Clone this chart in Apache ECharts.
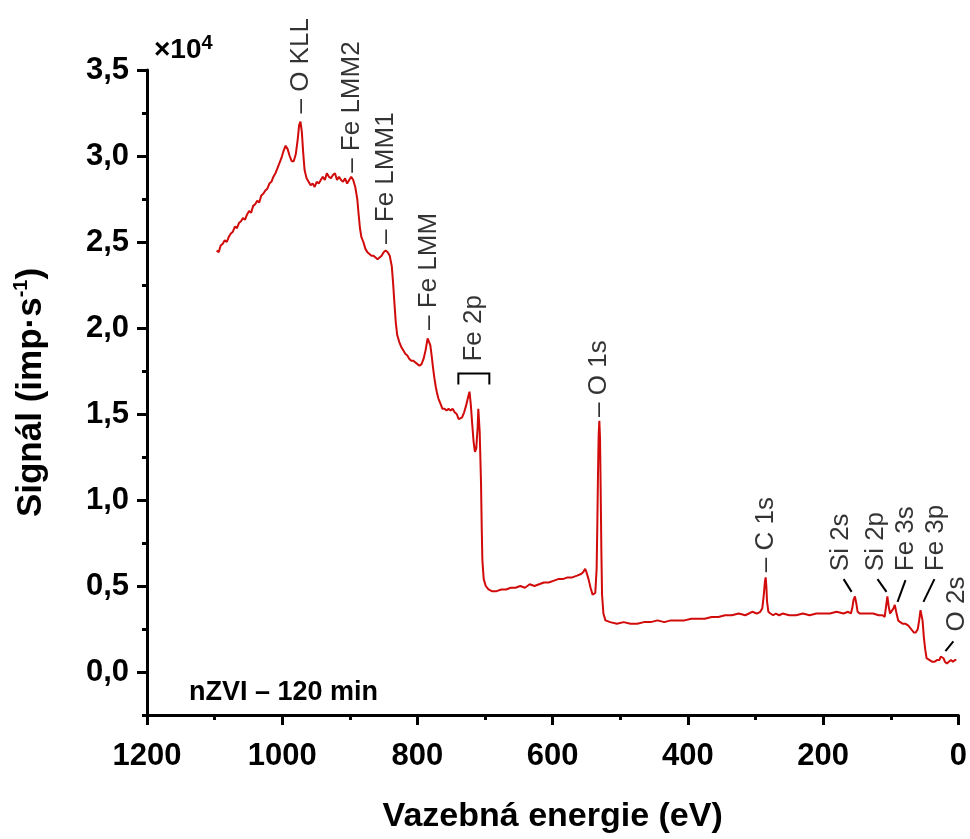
<!DOCTYPE html>
<html>
<head>
<meta charset="utf-8">
<title>XPS nZVI – 120 min</title>
<script src="https://cdn.jsdelivr.net/npm/echarts@6/dist/echarts.min.js"></script>
<style>
  html, body { margin: 0; padding: 0; background: #fff; }
  #chart { width: 970px; height: 839px; }
</style>
</head>
<body>
<div id="chart"></div>
<script>
// binding energy (eV) and signal (x10^4 imp/s)
var energy = [
  1097, 1094, 1091, 1088, 1085, 1082, 1079, 1076, 1073, 1070, 1067, 1064, 1061, 1058, 1055, 1052, 1049, 1046, 1043, 1040,
  1037, 1034, 1031, 1028, 1025, 1022, 1019, 1016, 1013, 1010, 1007, 1004, 1001, 998, 995, 992, 989, 986, 983, 980,
  977, 975, 973, 971, 969, 967, 964, 961, 958, 955, 952, 949, 946, 943, 940, 937, 934, 931, 928, 925,
  922, 919, 916, 913, 910, 907, 904, 901, 898, 895, 892, 889, 887, 885, 883, 880, 877, 874, 871, 868,
  865, 862, 859, 856, 853, 850, 847, 844, 841, 838, 836, 834, 832, 830, 827, 824, 821, 818, 815, 812,
  809, 806, 803, 800, 797, 794, 791, 788, 785, 783, 781, 779, 777, 775, 773, 771, 769, 766, 763, 760,
  757, 754, 751, 748, 745, 742, 739, 737, 734, 731, 728, 725, 723, 721, 719, 717, 715, 713, 711, 710,
  708, 706, 705, 704, 702, 699, 695, 690, 683, 676, 669, 662, 655, 648, 641, 634, 627, 620, 613, 606,
  599, 592, 585, 578, 571, 564, 558, 555, 552, 550, 547, 544, 541, 539, 537, 535, 534, 533, 532, 531,
  530, 529, 528, 527, 525, 522, 515, 505, 495, 485, 475, 465, 455, 445, 435, 425, 415, 405, 395, 385,
  375, 365, 355, 345, 335, 325, 315, 305, 298, 293, 290, 288, 286, 285, 284, 283, 281, 278, 274, 270,
  265, 260, 250, 240, 230, 220, 210, 200, 190, 180, 170, 163, 159, 157, 155, 153, 151, 149, 146, 140,
  133, 126, 118, 112, 109, 107, 105, 103, 101, 99, 96, 94, 92, 89, 86, 82, 78, 74, 70, 66,
  63, 60, 58, 56, 55, 53, 51, 49, 47, 45, 43, 39, 35, 31, 28, 26, 24, 22, 20, 17,
  14, 11, 8, 5, 3
];
var signal = [
  2.45, 2.44, 2.48, 2.49, 2.51, 2.50, 2.53, 2.55, 2.56, 2.59, 2.58, 2.61, 2.62, 2.64, 2.63, 2.66, 2.68, 2.67, 2.71, 2.72,
  2.74, 2.73, 2.77, 2.78, 2.80, 2.81, 2.84, 2.85, 2.88, 2.90, 2.93, 2.96, 2.99, 3.03, 3.06, 3.04, 3.00, 2.97, 2.97, 3.01,
  3.10, 3.18, 3.20, 3.14, 3.02, 2.92, 2.87, 2.85, 2.83, 2.84, 2.82, 2.85, 2.84, 2.86, 2.88, 2.86, 2.90, 2.88, 2.87, 2.89,
  2.90, 2.86, 2.88, 2.86, 2.85, 2.87, 2.84, 2.86, 2.88, 2.86, 2.82, 2.75, 2.66, 2.58, 2.53, 2.50, 2.46, 2.44, 2.43, 2.42,
  2.42, 2.41, 2.40, 2.41, 2.42, 2.44, 2.45, 2.44, 2.42, 2.36, 2.26, 2.14, 2.03, 1.96, 1.92, 1.89, 1.87, 1.85, 1.84, 1.82,
  1.81, 1.81, 1.80, 1.79, 1.78, 1.79, 1.82, 1.87, 1.94, 1.95, 1.90, 1.84, 1.77, 1.71, 1.66, 1.62, 1.59, 1.56, 1.53, 1.53,
  1.52, 1.53, 1.52, 1.53, 1.51, 1.50, 1.47, 1.46, 1.48, 1.51, 1.55, 1.60, 1.63, 1.55, 1.44, 1.34, 1.28, 1.30, 1.42, 1.53,
  1.40, 1.10, 0.85, 0.65, 0.54, 0.50, 0.48, 0.47, 0.47, 0.48, 0.48, 0.49, 0.49, 0.50, 0.49, 0.51, 0.50, 0.51, 0.52, 0.52,
  0.53, 0.54, 0.54, 0.55, 0.55, 0.56, 0.57, 0.58, 0.60, 0.58, 0.54, 0.49, 0.45, 0.44, 0.46, 0.60, 0.85, 1.15, 1.38, 1.46,
  1.36, 1.05, 0.70, 0.45, 0.34, 0.30, 0.29, 0.28, 0.29, 0.28, 0.28, 0.29, 0.29, 0.30, 0.29, 0.30, 0.30, 0.30, 0.31, 0.31,
  0.31, 0.32, 0.32, 0.33, 0.33, 0.34, 0.33, 0.35, 0.34, 0.35, 0.37, 0.44, 0.53, 0.55, 0.50, 0.41, 0.35, 0.34, 0.33, 0.34,
  0.33, 0.34, 0.33, 0.33, 0.34, 0.33, 0.34, 0.34, 0.34, 0.35, 0.34, 0.35, 0.34, 0.37, 0.42, 0.44, 0.40, 0.35, 0.34, 0.34,
  0.34, 0.34, 0.33, 0.33, 0.32, 0.38, 0.44, 0.38, 0.34, 0.35, 0.37, 0.39, 0.35, 0.30, 0.29, 0.28, 0.28, 0.27, 0.25, 0.23,
  0.23, 0.25, 0.30, 0.36, 0.37, 0.30, 0.20, 0.13, 0.08, 0.07, 0.07, 0.06, 0.06, 0.07, 0.07, 0.09, 0.10, 0.08, 0.06, 0.05,
  0.06, 0.07, 0.06, 0.07, 0.07
];

// peak labels with a leading tick dash
var dashNames = ['– O KLL', '– Fe LMM2', '– Fe LMM1', '– Fe LMM', '– O 1s', '– C 1s'];
var dashEnergy = [972.7, 897.4, 847.2, 783.8, 531.4, 284.9];
var dashSignal = [3.247, 2.902, 2.489, 1.989, 1.483, 0.580];

// peak labels drawn with a separate leader line / bracket
var plainNames = ['Fe 2p', 'Si 2s', 'Si 2p', 'Fe 3s', 'Fe 3p', 'O 2s'];
var plainEnergy = [715.9, 174.2, 122.5, 78.2, 33.9, 3.0];
var plainSignal = [1.805, 0.586, 0.586, 0.586, 0.586, 0.236];

var leaderLines = [
  [[169.7, 0.540], [157.9, 0.466]],
  [[119.6, 0.540], [106.3, 0.466]],
  [[78.2, 0.534], [90.0, 0.408]],
  [[35.4, 0.540], [51.7, 0.408]],
  [[7.4, 0.178], [19.2, 0.121]]
];
var fe2pBracket = [[739.5, 1.672], [739.5, 1.736], [693.7, 1.736], [693.7, 1.672]];

var yTicks = [0, 0.5, 1, 1.5, 2, 2.5, 3, 3.5];
var yMinorTicks = [-0.25, 0.25, 0.75, 1.25, 1.75, 2.25, 2.75, 3.25];

var FONT = '"Liberation Sans", Arial, sans-serif';

function zip(a, b) {
  var out = [];
  for (var i = 0; i < a.length; i++) out.push([a[i], b[i]]);
  return out;
}
function named(names, xs, ys) {
  var out = [];
  for (var i = 0; i < names.length; i++) out.push({ name: names[i], value: [xs[i], ys[i]] });
  return out;
}

var chart = echarts.init(document.getElementById('chart'));

var annoLabel = {
  show: true,
  formatter: '{b}',
  position: 'top',
  distance: 0,
  rotate: 90,
  align: 'left',
  verticalAlign: 'middle',
  fontSize: 26,
  fontFamily: FONT,
  color: '#000'
};

chart.setOption({
  animation: false,
  backgroundColor: '#fff',
  title: [
    {
      left: 149, top: 28,
      text: '{a|×10}{b|4}',
      textStyle: {
        rich: {
          a: { fontSize: 28, fontWeight: 'bold', fontFamily: FONT, color: '#000', lineHeight: 34 },
          b: { fontSize: 20, fontWeight: 'bold', fontFamily: FONT, color: '#000', verticalAlign: 'top', lineHeight: 24 }
        }
      }
    },
    {
      left: 184, top: 674,
      text: 'nZVI – 120 min',
      textStyle: { fontSize: 27, fontWeight: 'bold', fontFamily: FONT, color: '#000' }
    }
  ],
  grid: { left: 147, right: 10, top: 70, bottom: 114, containLabel: false },
  xAxis: {
    type: 'value',
    inverse: true,
    min: 0,
    max: 1200,
    interval: 200,
    axisLine: { onZero: false, lineStyle: { color: '#000', width: 3 } },
    axisTick: { length: 10, lineStyle: { color: '#000', width: 3 } },
    minorTick: { show: true, splitNumber: 2, length: 5, lineStyle: { color: '#000', width: 3 } },
    splitLine: { show: false },
    axisLabel: {
      fontSize: 31, fontWeight: 'bold', fontFamily: FONT, color: '#000', margin: 26,
      formatter: function (v) { return String(v); }
    },
    name: 'Vazebná energie (eV)',
    nameLocation: 'middle',
    nameGap: 85,
    nameTextStyle: { fontSize: 34, fontWeight: 'bold', fontFamily: FONT, color: '#000' }
  },
  yAxis: [
    {
      type: 'value',
      min: -0.25,
      max: 3.5,
      axisLine: { show: true, onZero: false, lineStyle: { color: '#000', width: 3 } },
      axisTick: { show: true, length: 10, customValues: yTicks, lineStyle: { color: '#000', width: 3 } },
      splitLine: { show: false },
      axisLabel: {
        customValues: yTicks,
        fontSize: 31, fontWeight: 'bold', fontFamily: FONT, color: '#000', margin: 18,
        formatter: function (v) { return v.toFixed(1).replace('.', ','); }
      },
      name: 'Signál (imp·s{sup|-1})',
      nameLocation: 'middle',
      nameGap: 96,
      nameTextStyle: {
        fontSize: 35, fontWeight: 'bold', fontFamily: FONT, color: '#000', lineHeight: 40,
        rich: { sup: { fontSize: 20, fontWeight: 'bold', fontFamily: FONT, color: '#000', verticalAlign: 'top', lineHeight: 30 } }
      }
    },
    {
      type: 'value',
      min: -0.25,
      max: 3.5,
      position: 'left',
      axisLine: { show: false, onZero: false },
      axisTick: { show: true, length: 5, customValues: yMinorTicks, lineStyle: { color: '#000', width: 3 } },
      axisLabel: { show: false },
      splitLine: { show: false }
    }
  ],
  series: [
    {
      name: 'nZVI – 120 min',
      type: 'line',
      data: zip(energy, signal),
      showSymbol: false,
      symbol: 'none',
      lineStyle: { color: '#d10a0a', width: 2 },
      z: 3
    },
    {
      type: 'scatter',
      data: named(dashNames, dashEnergy, dashSignal),
      symbolSize: 0,
      label: annoLabel,
      silent: true,
      z: 5
    },
    {
      type: 'scatter',
      data: named(plainNames, plainEnergy, plainSignal),
      symbolSize: 0,
      label: annoLabel,
      silent: true,
      z: 5
    },
    {
      type: 'lines',
      coordinateSystem: 'cartesian2d',
      polyline: true,
      data: leaderLines.map(function (c) { return { coords: c }; }).concat([{ coords: fe2pBracket }]),
      lineStyle: { color: '#000', width: 2, opacity: 1 },
      silent: true,
      z: 4
    }
  ]
});
</script>
</body>
</html>
